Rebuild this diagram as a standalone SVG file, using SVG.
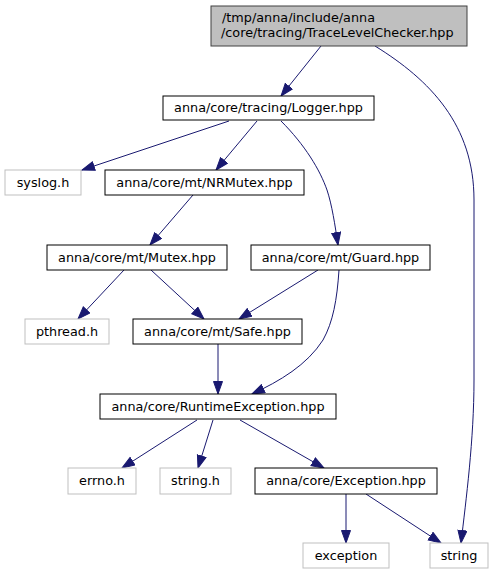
<svg xmlns="http://www.w3.org/2000/svg" width="494" height="575" viewBox="0 0 494 575">
<style>
.n rect{fill:#ffffff;stroke:#000000;stroke-width:1}
.g rect{fill:#ffffff;stroke:#bfbfbf;stroke-width:1}
text{font-family:"DejaVu Sans",sans-serif;font-size:12.8px;fill:#000000;text-anchor:middle}
.e path{fill:none;stroke:#191970;stroke-width:1;marker-end:url(#a)}
</style>
<defs>
<marker id="a" markerUnits="userSpaceOnUse" markerWidth="15" markerHeight="12" refX="13" refY="5" orient="auto">
<path d="M0.5,0.5 L13,5 L0.5,9.5 z" fill="#191970" stroke="#191970" stroke-width="1"/>
</marker>
</defs>
<rect width="494" height="575" fill="#ffffff"/>
<g class="e" id="connectors">
<path d="M321,46 L281,96"/>
<path d="M375,46 C430,80 474,125 474,200 L474,380 C474,440 466,500 461,543"/>
<path d="M229,121 L82,170"/>
<path d="M257,121 L216,170"/>
<path d="M281,121 C305,145 320,170 327,190 C332,205 335,225 338,245"/>
<path d="M193,195 L150,245"/>
<path d="M124,270 L78,319"/>
<path d="M151,270 L204,319"/>
<path d="M318,270 L239,319"/>
<path d="M339,270 C337,300 333,322 323,340 C307,365 280,381 252,394"/>
<path d="M218,344 L218,394"/>
<path d="M197,420 L122,468"/>
<path d="M213,420 L198,468"/>
<path d="M240,420 L324,468"/>
<path d="M346,494 L346,543"/>
<path d="M366,494 L441,543"/>
</g>
<g id="node1"><rect x="211" y="6" width="256" height="40" fill="#bfbfbf" stroke="#404040"/><text x="222" y="22" style="text-anchor:start">/tmp/anna/include/anna</text><text x="221" y="37" style="text-anchor:start">/core/tracing/TraceLevelChecker.hpp</text></g>
<g id="node2" class="n"><rect x="163" y="96" width="211" height="24"/><text x="268.5" y="112">anna/core/tracing/Logger.hpp</text></g>
<g id="node3" class="g"><rect x="5" y="170" width="76" height="25"/><text x="43" y="186.5">syslog.h</text></g>
<g id="node4" class="n"><rect x="105" y="170" width="199" height="25"/><text x="204.5" y="186.5">anna/core/mt/NRMutex.hpp</text></g>
<g id="node5" class="n"><rect x="47" y="245" width="180" height="25"/><text x="137" y="261.5">anna/core/mt/Mutex.hpp</text></g>
<g id="node6" class="n"><rect x="251" y="245" width="179" height="25"/><text x="340.5" y="261.5">anna/core/mt/Guard.hpp</text></g>
<g id="node7" class="g"><rect x="25" y="319" width="84" height="25"/><text x="67" y="335.5">pthread.h</text></g>
<g id="node8" class="n"><rect x="133" y="319" width="169" height="25"/><text x="217.5" y="335.5">anna/core/mt/Safe.hpp</text></g>
<g id="node9" class="n"><rect x="100" y="394" width="236" height="25"/><text x="218" y="410.5">anna/core/RuntimeException.hpp</text></g>
<g id="node10" class="g"><rect x="68" y="468" width="68" height="26"/><text x="102" y="485">errno.h</text></g>
<g id="node11" class="g"><rect x="160" y="468" width="71" height="26"/><text x="195.5" y="485">string.h</text></g>
<g id="node12" class="n"><rect x="255" y="468" width="182" height="26"/><text x="346" y="485">anna/core/Exception.hpp</text></g>
<g id="node13" class="g"><rect x="303" y="543" width="86" height="25"/><text x="346" y="559.5">exception</text></g>
<g id="node14" class="g"><rect x="430" y="543" width="58" height="25"/><text x="459" y="559.5">string</text></g>
</svg>
